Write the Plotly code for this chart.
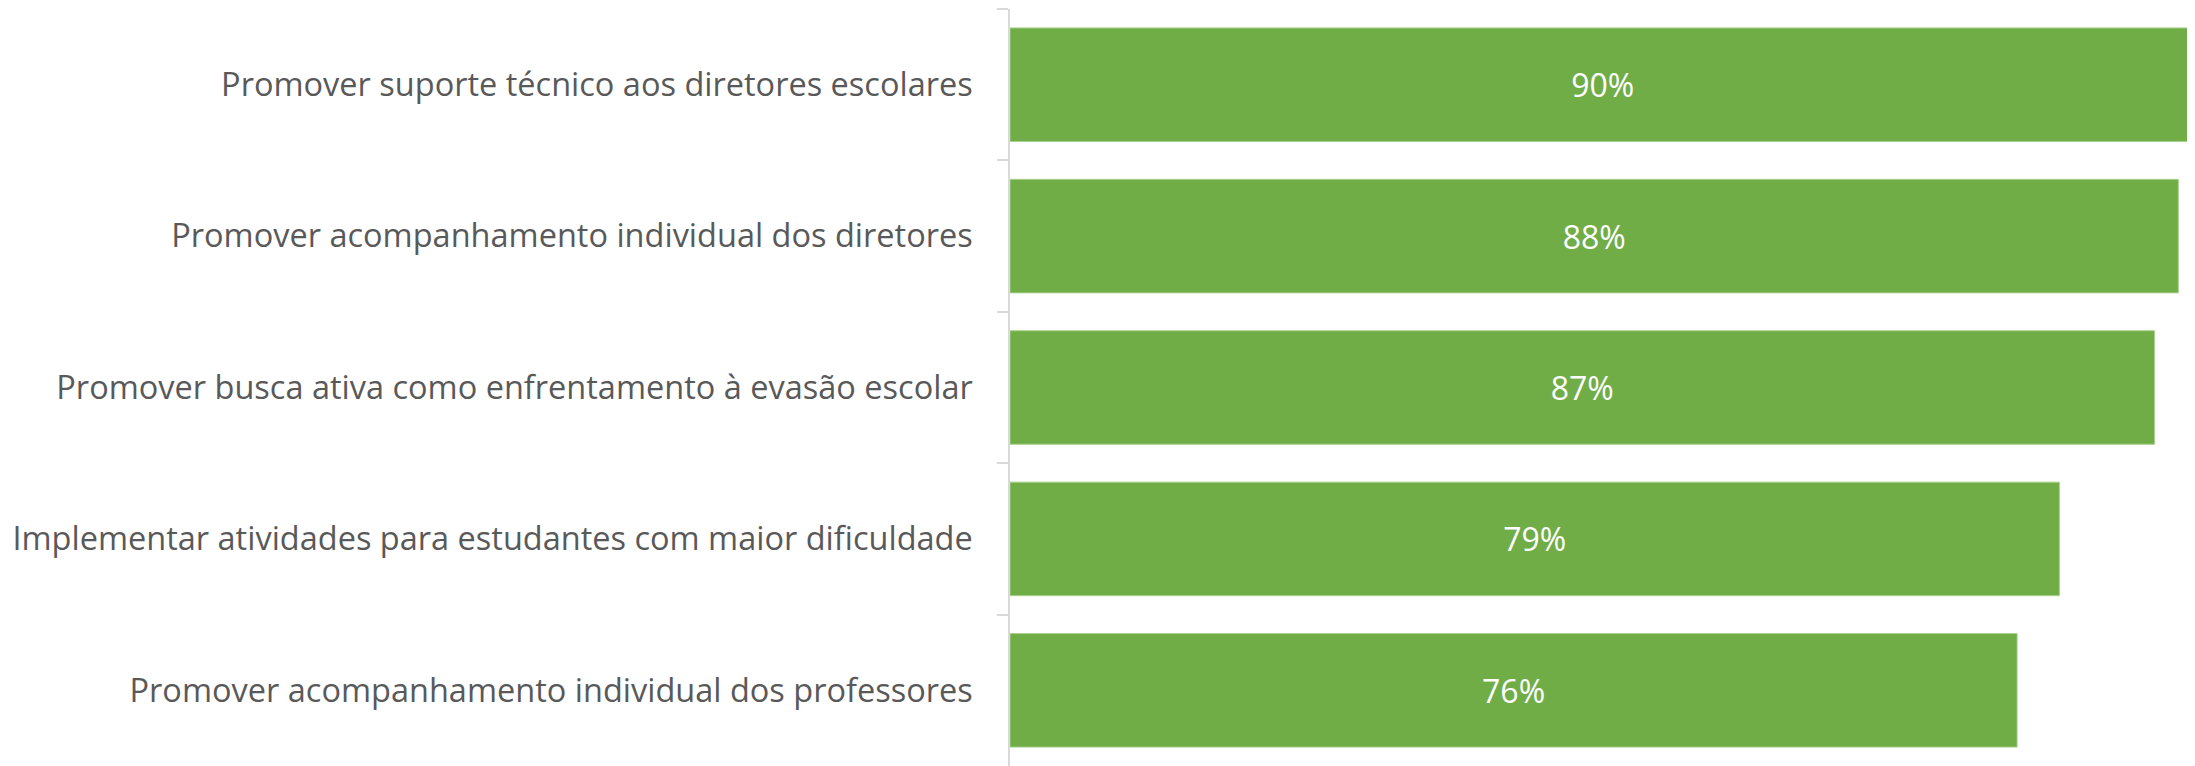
import plotly.graph_objects as go

categories = [
    "Promover suporte técnico aos diretores escolares",
    "Promover acompanhamento individual dos diretores",
    "Promover busca ativa como enfrentamento à evasão escolar",
    "Implementar atividades para estudantes com maior dificuldade",
    "Promover acompanhamento individual dos professores",
]
values = [89.7, 88.4, 86.6, 79.4, 76.2]
labels = ["90%", "88%", "87%", "79%", "76%"]

FONT = "Open Sans"

fig = go.Figure(
    go.Bar(
        y=categories,
        x=values,
        orientation="h",
        marker=dict(color="#70AD47", line=dict(color="#A9D18E", width=1)),
        text=labels,
        textposition="inside",
        insidetextanchor="middle",
        textfont=dict(color="white", size=32, family=FONT),
        width=0.75,
    )
)

fig.update_layout(
    width=2187,
    height=758,
    margin=dict(l=1002, r=0, t=1, b=0),
    paper_bgcolor="white",
    plot_bgcolor="white",
    showlegend=False,
    font=dict(family=FONT, color="#595959", size=32),
)
fig.update_yaxes(
    autorange="reversed",
    tickson="boundaries",
    ticks="outside",
    ticklen=11,
    tickcolor="#D9D9D9",
    tickwidth=1.5,
    showline=True,
    linecolor="#D9D9D9",
    linewidth=1.5,
    ticklabelstandoff=29,
    tickfont=dict(size=32.5, color="#595959", family=FONT),
    showgrid=False,
)
fig.update_xaxes(
    range=[0, 89.66],
    visible=False,
    showgrid=False,
    zeroline=False,
)

fig.write_html("out.html")
